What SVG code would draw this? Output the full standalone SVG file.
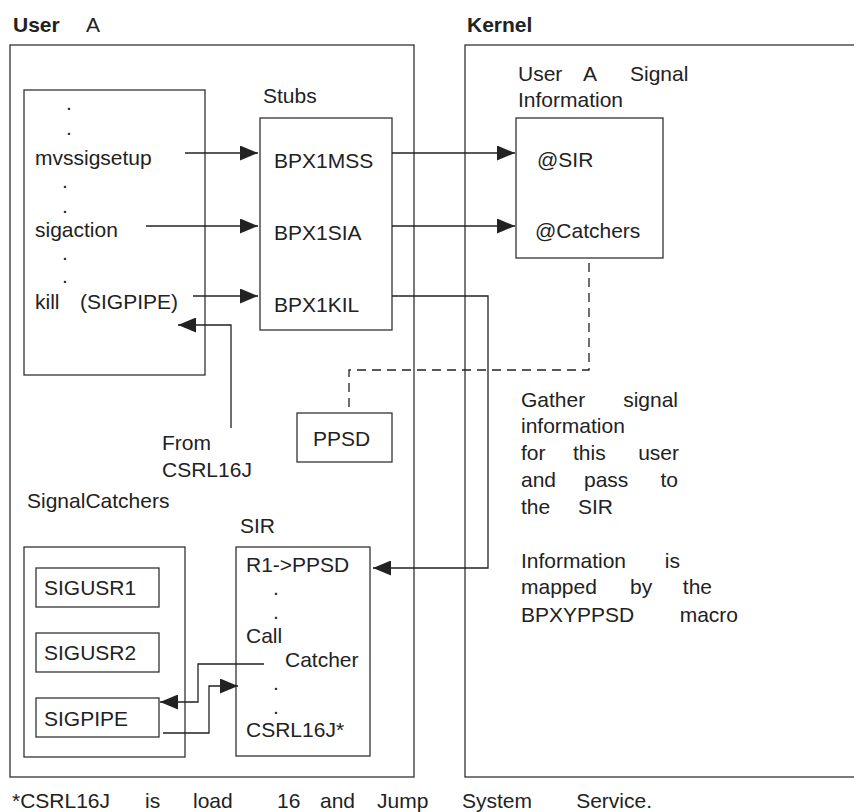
<svg xmlns="http://www.w3.org/2000/svg" width="854" height="812" viewBox="0 0 854 812">
<defs>
<style>
text{font-family:"Liberation Sans",Arial,sans-serif;font-size:21px;fill:#222}
.b{font-weight:bold}
.box{fill:none;stroke:#333;stroke-width:1.3}
.ln{fill:none;stroke:#222;stroke-width:1.3}
.dash{fill:none;stroke:#222;stroke-width:1.3;stroke-dasharray:9 6}
</style>
<marker id="ah" viewBox="0 0 18 15" refX="18" refY="7.5" markerWidth="18" markerHeight="15" markerUnits="userSpaceOnUse" orient="auto">
<path d="M0,0 L18,7.5 L0,15 Z" fill="#222"/>
</marker>
</defs>
<rect width="854" height="812" fill="#fff"/>

<g id="userA">
<rect class="box" x="10" y="45" width="404" height="732"/>
<text x="13" y="32"><tspan class="b">User</tspan><tspan x="86">A</tspan></text>
</g>

<g id="kernel">
<rect class="box" x="465" y="45" width="400" height="732"/>
<text class="b" x="467" y="32">Kernel</text>
</g>

<g id="program">
<rect class="box" x="24" y="90" width="181" height="285"/>
<text x="66" y="110">.</text>
<text x="66" y="135">.</text>
<text x="35" y="165">mvssigsetup</text>
<text x="62" y="188">.</text>
<text x="62" y="213">.</text>
<text x="35" y="237">sigaction</text>
<text x="62" y="260">.</text>
<text x="62" y="283">.</text>
<text x="35" y="309">kill</text>
<text x="80" y="309">(SIGPIPE)</text>
</g>

<g id="stubs">
<text x="263" y="103">Stubs</text>
<rect class="box" x="260" y="118" width="132" height="212"/>
<text x="274" y="168">BPX1MSS</text>
<text x="274" y="240">BPX1SIA</text>
<text x="274" y="312">BPX1KIL</text>
</g>

<g id="sigInfo">
<text x="518" y="81">User<tspan x="583">A</tspan><tspan x="630">Signal</tspan></text>
<text x="518" y="107">Information</text>
<rect class="box" x="516" y="118" width="147" height="140"/>
<text x="537" y="167">@SIR</text>
<text x="535" y="238">@Catchers</text>
</g>

<g id="ppsd">
<rect class="box" x="297" y="413" width="95" height="49"/>
<text x="313" y="446">PPSD</text>
</g>

<g id="fromLabel">
<text x="162" y="450">From</text>
<text x="162" y="477">CSRL16J</text>
</g>

<g id="catchers">
<text x="27" y="508">SignalCatchers</text>
<rect class="box" x="24" y="547" width="161" height="210"/>
</g>

<g id="sigusr1">
<rect class="box" x="36" y="568" width="123" height="39"/>
<text x="44" y="595">SIGUSR1</text>
</g>
<g id="sigusr2">
<rect class="box" x="36" y="633" width="123" height="39"/>
<text x="44" y="660">SIGUSR2</text>
</g>
<g id="sigpipe">
<rect class="box" x="36" y="698" width="123" height="39"/>
<text x="44" y="726">SIGPIPE</text>
</g>

<g id="sir">
<text x="240" y="533">SIR</text>
<rect class="box" x="236" y="547" width="134" height="209"/>
<text x="246" y="572">R1-&gt;PPSD</text>
<text x="273" y="595">.</text>
<text x="273" y="619">.</text>
<text x="246" y="643">Call</text>
<text x="285" y="667">Catcher</text>
<text x="273" y="690">.</text>
<text x="273" y="714">.</text>
<text x="246" y="737">CSRL16J*</text>
</g>

<g id="note">
<text x="521" y="407">Gather<tspan x="678" text-anchor="end">signal</tspan></text>
<text x="521" y="433">information</text>
<text x="521" y="460">for<tspan x="573">this</tspan><tspan x="679" text-anchor="end">user</tspan></text>
<text x="521" y="487">and<tspan x="584">pass</tspan><tspan x="678" text-anchor="end">to</tspan></text>
<text x="521" y="514">the<tspan x="578">SIR</tspan></text>
<text x="521" y="568">Information<tspan x="680" text-anchor="end">is</tspan></text>
<text x="521" y="594">mapped<tspan x="630">by</tspan><tspan x="712" text-anchor="end">the</tspan></text>
<text x="521" y="622">BPXYPPSD<tspan x="738" text-anchor="end">macro</tspan></text>
</g>

<g id="footnote">
<text x="12" y="808">*CSRL16J<tspan x="145">is</tspan><tspan x="193">load</tspan><tspan x="277">16</tspan><tspan x="320">and</tspan><tspan x="377">Jump</tspan><tspan x="462">System</tspan><tspan x="652" text-anchor="end">Service.</tspan></text>
</g>

<g id="connectors">
<line class="ln" x1="185" y1="153" x2="258" y2="153" marker-end="url(#ah)"/>
<line class="ln" x1="146" y1="226" x2="258" y2="226" marker-end="url(#ah)"/>
<line class="ln" x1="193" y1="296" x2="258" y2="296" marker-end="url(#ah)"/>
<polyline class="ln" points="231,428 231,325 178,325" marker-end="url(#ah)"/>
<line class="ln" x1="392" y1="153" x2="515" y2="153" marker-end="url(#ah)"/>
<line class="ln" x1="392" y1="226" x2="515" y2="226" marker-end="url(#ah)"/>
<polyline class="ln" points="392,296 488,296 488,568 373,568" marker-end="url(#ah)"/>
<polyline class="dash" points="589,263 589,370 349,370 349,413"/>
<polyline class="ln" points="264,664 198,664 198,702 160,702" marker-end="url(#ah)"/>
<polyline class="ln" points="163,733 209,733 209,686 238,686" marker-end="url(#ah)"/>
</g>
</svg>
